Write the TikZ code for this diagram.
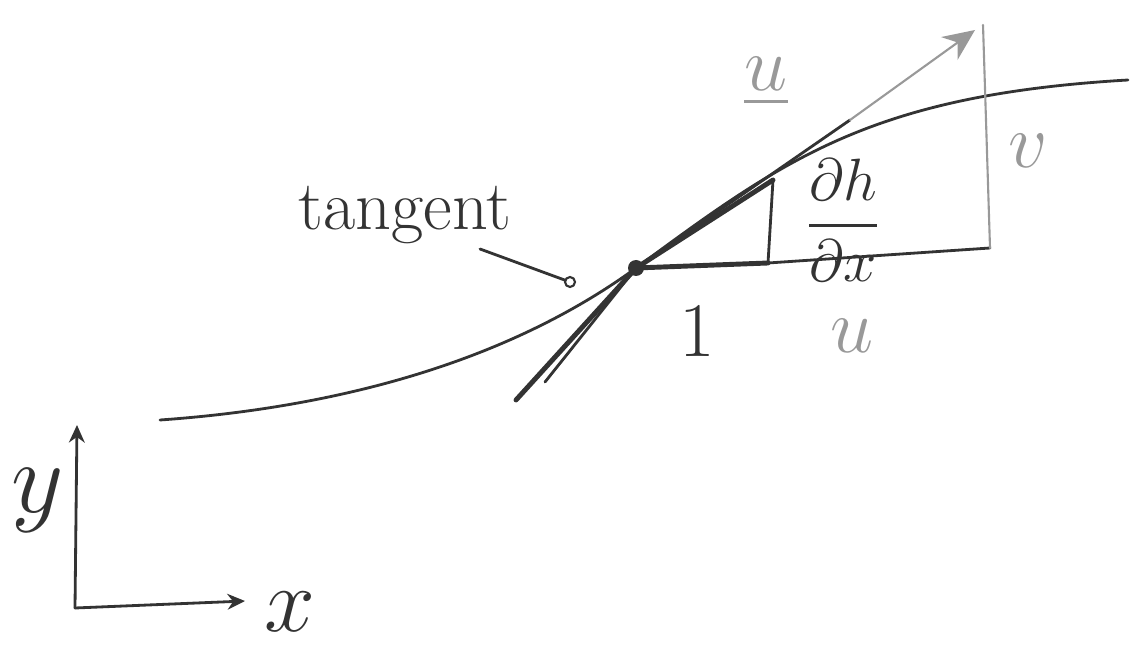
\RequirePackage{fix-cm}
\documentclass[tikz,border=0pt]{standalone}
\usepackage{amsmath,amssymb}
\usepackage{tikz}
\usetikzlibrary{arrows.meta, positioning}
\definecolor{ink}{gray}{0.2}
\definecolor{pencil}{gray}{0.6}
\tikzstyle{inkline} = [draw=ink, line width=1.6pt, line cap=round]
\tikzstyle{thickink} = [draw=ink, line width=2.8pt, line cap=round]
\tikzstyle{pencilline} = [draw=pencil, line width=1.2pt, line cap=round]
\tikzstyle{arrow2} = [-{Stealth[length=18pt, width=16pt]}]
\tikzstyle{axisarrow} = [-{Stealth[length=10pt, width=9pt]}]
\tikzstyle{label2} = [text=ink, inner sep=0pt, font=\fontsize{44}{48}\selectfont]
\tikzstyle{glabel} = [label2, text=pencil]

\begin{document}
\begin{tikzpicture}[x=0.02cm, y=-0.02cm]
            \useasboundingbox (0,0) rectangle (1131,651);

            % Place nodes
            \coordinate (start) at (160,420);
            \coordinate (P) at (636,268);
            \coordinate (end) at (1128,80);
            \coordinate (low1) at (516,400);
            \coordinate (low2) at (545,382);
            \coordinate (top) at (773,180);
            \coordinate (corner) at (768,263);
            \coordinate (far) at (990,248);
            \coordinate (vtop) at (983,25);
            \coordinate (tail) at (850,120);
            \coordinate (tip) at (975,30);
            \coordinate (tanfoot) at (480,249);
            \coordinate (O) at (75,608);
            \coordinate (ytip) at (77,425);
            \coordinate (xtip) at (245,601);
            \node (dot) [circle, fill=ink, minimum size=0.32cm, inner sep=0pt] at (P) {};
            \node (pin) [circle, draw=ink, line width=1.2pt, minimum size=0.2cm, inner sep=0pt] at (570,282) {};
            \node (tangent) [label2, anchor=base, font=\fontsize{40}{44}\selectfont] at (405,230) {tangent};
            \node (uvec) [glabel] at (766,82) {$\underline{u}$};
            \node (vlab) [glabel] at (1028,151) {$v$};
            \node (dhdx) [label2, font=\fontsize{34}{38}\selectfont] at (843,220) {$\dfrac{\partial h}{\partial x}$};
            \node (one) [label2] at (697,332) {$1$};
            \node (ulab) [glabel] at (852,336) {$u$};
            \node (ylab) [label2, font=\fontsize{58}{60}\selectfont] at (38,500) {$y$};
            \node (xlab) [label2, font=\fontsize{52}{56}\selectfont] at (290,612) {$x$};

            % Draw edges
            \draw [inkline] (start) .. controls (330,408) and (503,365) .. (P) .. controls (783,160) and (870,95) .. (end);
            \draw [thickink] (low1) -- (P) -- (top);
            \draw [inkline] (low2) -- (P) -- (tail);
            \draw [thickink] (P) -- (corner);
            \draw [inkline] (top) -- (corner) -- (far);
            \draw [pencilline] (vtop) -- (far);
            \draw [pencilline, arrow2] (tail) -- (tip);
            \draw [inkline] (tanfoot) -- (pin);
            \draw [inkline, axisarrow] (O) -- (ytip);
            \draw [inkline, axisarrow] (O) -- (xtip);
\end{tikzpicture}
\end{document}
